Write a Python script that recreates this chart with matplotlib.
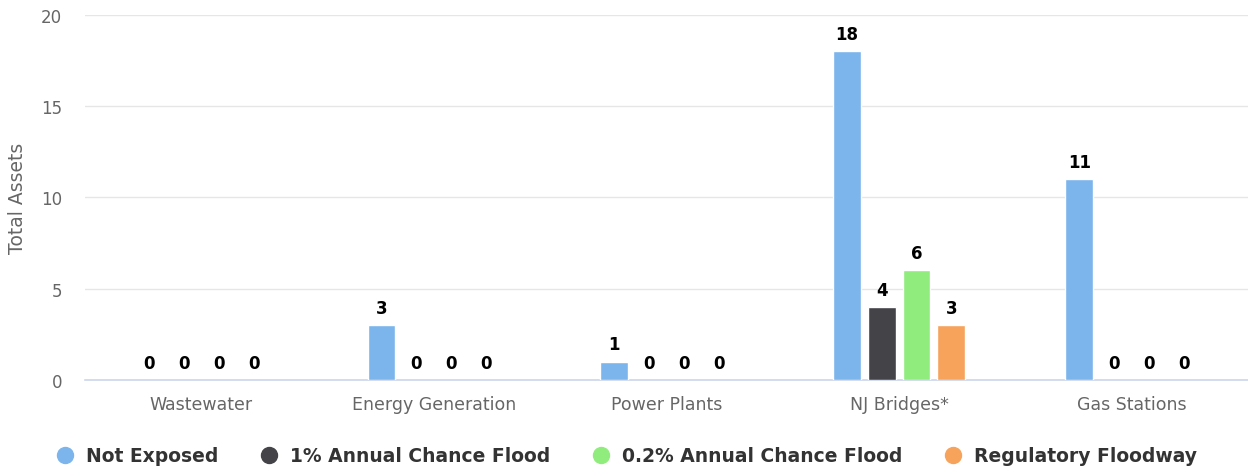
import numpy as np
import matplotlib.pyplot as plt
from matplotlib.lines import Line2D

plt.rcParams['font.family'] = ['DejaVu Sans']

categories = ['Wastewater', 'Energy Generation', 'Power Plants', 'NJ Bridges*', 'Gas Stations']
series_names = ['Not Exposed', '1% Annual Chance Flood', '0.2% Annual Chance Flood', 'Regulatory Floodway']
not_exposed = [0, 3, 1, 18, 11]
flood_1pct = [0, 0, 0, 4, 0]
flood_02pct = [0, 0, 0, 6, 0]
floodway = [0, 0, 0, 3, 0]
colors = ['#7cb5ec', '#434348', '#90ed7d', '#f7a35c']

series = [not_exposed, flood_1pct, flood_02pct, floodway]

fig = plt.figure(figsize=(12.48, 4.77), dpi=100)
ax = fig.add_axes([0.068, 0.2013, 0.932, 0.7652])

x = np.arange(len(categories))
step = 0.6 / 4
width = step * 0.8
for i, (vals, c) in enumerate(zip(series, colors)):
    pos = x - 0.3 + step * (i + 0.5)
    lws = [1 if v > 0 else 0 for v in vals]
    ax.bar(pos, vals, width=width, color=c, edgecolor='white', linewidth=lws, zorder=3)
    for p, v in zip(pos, vals):
        ax.annotate(str(v), (p, v), xytext=(0, 12.5), textcoords='offset points',
                    ha='center', va='center', fontsize=12, fontweight='bold', color='black')

ax.set_xlim(-0.5, len(categories) - 0.5)
ax.set_ylim(0, 20)
ax.set_yticks([0, 5, 10, 15, 20])
ax.set_xticks(x)
ax.set_xticklabels(categories)
ax.grid(axis='y', color='#e6e6e6', linewidth=1, zorder=0)
ax.tick_params(axis='x', length=0, labelsize=12.5, labelcolor='#666666', pad=11)
ax.tick_params(axis='y', length=0, labelsize=12, labelcolor='#666666', pad=16.5)
for sp in ['top', 'right', 'left']:
    ax.spines[sp].set_visible(False)
ax.spines['bottom'].set_color('#ccd6eb')
ax.spines['bottom'].set_linewidth(1.2)
ax.set_ylabel('Total Assets', fontsize=13.5, color='#666666', labelpad=10)

handles = [Line2D([], [], marker='o', linestyle='', markersize=11.5, color=c) for c in colors]
leg = fig.legend(handles, series_names, loc='center', bbox_to_anchor=(0.5016, 0.042), ncol=4,
                 frameon=False, handlelength=1.0, handletextpad=0.62, columnspacing=2.2,
                 borderaxespad=0, prop={'size': 13.5, 'weight': 'bold'})
for t in leg.get_texts():
    t.set_color('#333333')

fig.savefig('out.png', dpi=100)
